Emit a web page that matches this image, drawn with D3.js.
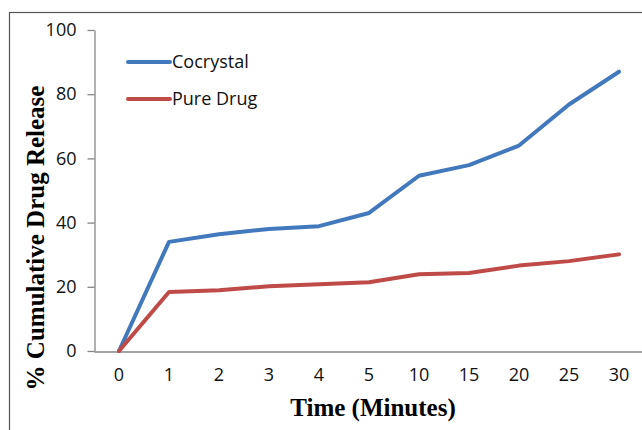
<!DOCTYPE html>
<html>
<head>
<meta charset="utf-8">
<script src="https://cdn.jsdelivr.net/npm/d3@7"></script>
<style>
  html, body { margin: 0; padding: 0; background: #fff; }
  svg { display: block; }
</style>
</head>
<body>
<svg id="chart" width="642" height="430"></svg>
<script>
// Sampling times (minutes), plotted as evenly spaced categories
const times = ["0", "1", "2", "3", "4", "5", "10", "15", "20", "25", "30"];
// % cumulative drug release for each formulation
const cocrystal = [0, 34.0, 36.4, 38.0, 38.9, 43.0, 54.6, 57.9, 64.0, 76.8, 87.0];
const pureDrug  = [0, 18.4, 18.9, 20.2, 20.8, 21.4, 23.9, 24.3, 26.6, 28.0, 30.1];
const yTicks = [0, 20, 40, 60, 80, 100];

const series = [
  { name: "Cocrystal", values: cocrystal, color: "#4279bd" },
  { name: "Pure Drug", values: pureDrug, color: "#be4b48" }
];

const svg = d3.select("#chart");
const axisColor = "#868686";
const tickFont = "'Open Sans', sans-serif";
const titleFont = "'Liberation Serif', 'Times New Roman', serif";

// outer frame (top and left edges visible)
svg.append("rect")
  .attr("x", 9.5).attr("y", 12.5)
  .attr("width", 700).attr("height", 500)
  .attr("fill", "none").attr("stroke", "#555").attr("stroke-width", 1.2);

const plot = { left: 94, right: 644, top: 30, bottom: 351 };

const x = d3.scaleBand().domain(times).range([plot.left, plot.right]);
const y = d3.scaleLinear().domain([0, 100]).range([plot.bottom, plot.top]);

// y axis
const yAxis = svg.append("g")
  .attr("transform", `translate(${plot.left + 0.5},0)`)
  .call(d3.axisLeft(y).tickValues(yTicks).tickSize(7).tickPadding(11).tickSizeOuter(0));
yAxis.select(".domain").attr("stroke", axisColor).attr("stroke-width", 1.3);
yAxis.selectAll(".tick line").attr("stroke", axisColor).attr("stroke-width", 1.3);
yAxis.selectAll(".tick text")
  .attr("font-family", tickFont).attr("font-size", 18).attr("fill", "#111");

// x axis
const xAxis = svg.append("g")
  .attr("transform", `translate(0,${plot.bottom + 0.5})`)
  .call(d3.axisBottom(x).tickSize(0).tickPadding(17).tickSizeOuter(0));
xAxis.select(".domain").attr("stroke", axisColor).attr("stroke-width", 1.3);
xAxis.selectAll(".tick text")
  .attr("font-family", tickFont).attr("font-size", 18).attr("fill", "#111");

// axis titles
svg.append("text")
  .attr("x", 373).attr("y", 416)
  .attr("text-anchor", "middle")
  .attr("font-family", titleFont).attr("font-weight", "bold").attr("font-size", 25)
  .attr("fill", "#000")
  .text("Time (Minutes)");

svg.append("text")
  .attr("transform", "translate(44,238) rotate(-90)")
  .attr("text-anchor", "middle")
  .attr("font-family", titleFont).attr("font-weight", "bold").attr("font-size", 25)
  .attr("fill", "#000")
  .text("% Cumulative Drug Release");

// release curves
const line = d3.line()
  .x((d, i) => x(times[i]) + x.bandwidth() / 2)
  .y(d => y(d));

svg.selectAll("path.series")
  .data(series)
  .join("path")
  .attr("class", "series")
  .attr("d", d => line(d.values))
  .attr("fill", "none")
  .attr("stroke", d => d.color)
  .attr("stroke-width", 4)
  .attr("stroke-linejoin", "round")
  .attr("stroke-linecap", "round");

// legend
const legend = svg.append("g");
const legendY = [62, 99];
series.forEach((s, i) => {
  legend.append("line")
    .attr("x1", 128).attr("x2", 170)
    .attr("y1", legendY[i]).attr("y2", legendY[i])
    .attr("stroke", s.color).attr("stroke-width", 4).attr("stroke-linecap", "round");
  legend.append("text")
    .attr("x", 172).attr("y", legendY[i])
    .attr("dy", "0.35em")
    .attr("font-family", tickFont).attr("font-size", 18).attr("fill", "#111")
    .text(s.name);
});
</script>
</body>
</html>
